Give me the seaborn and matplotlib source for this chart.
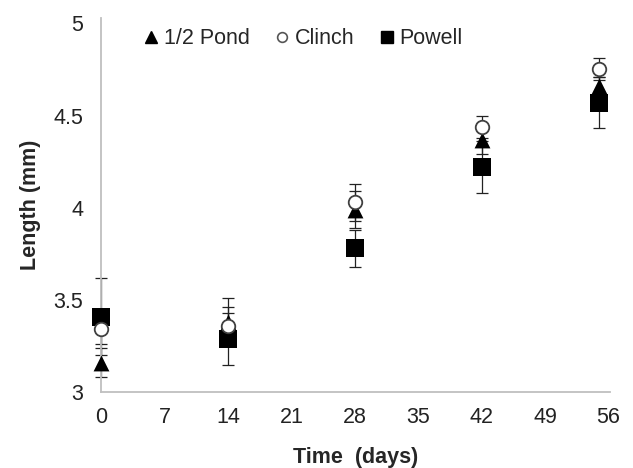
import numpy as np
import pandas as pd
import matplotlib
matplotlib.use('Agg')
import matplotlib.pyplot as plt
import seaborn as sns
from matplotlib.lines import Line2D

# data
days = [0, 14, 28, 42, 55]
pond = [3.16, 3.38, 3.99, 4.37, 4.66]
pond_err = [0.08, 0.13, 0.10, 0.08, 0.05]
clinch = [3.34, 3.36, 4.03, 4.44, 4.75]
clinch_err = [0.08, 0.10, 0.10, 0.06, 0.06]
powell = [3.41, 3.29, 3.78, 4.22, 4.57]
powell_err = [0.21, 0.14, 0.10, 0.14, 0.14]
groups = ['1/2 Pond', 'Clinch', 'Powell']
xticks = [0, 7, 14, 21, 28, 35, 42, 49, 56]
yticks = [3, 3.5, 4, 4.5, 5]
ytick_labels = ['3', '3.5', '4', '4.5', '5']

sns.set_style('white')
plt.rcParams['font.family'] = ['Liberation Sans', 'DejaVu Sans']

df = pd.DataFrame({
    'day': days * 3,
    'length': pond + clinch + powell,
    'err': pond_err + clinch_err + powell_err,
    'group': [g for g in groups for _ in days],
})

fig = plt.figure(figsize=(6.33, 4.68), dpi=100)
ax = fig.add_axes([0.16, 0.162, 0.804, 0.8])

# error bars first
for g in groups:
    d = df[df.group == g]
    eb = ax.errorbar(d.day, d.length, yerr=d.err, fmt='none', ecolor='#222222',
                     elinewidth=0.9, capsize=4, capthick=0.9, zorder=1)
    for art in eb.lines[1] + eb.lines[2]:
        art.set_clip_on(False)

# markers: square, triangle, then circle on top
styles = {
    'Powell': dict(marker='s', s=170, color='black', edgecolor='black', linewidth=0),
    '1/2 Pond': dict(marker='^', s=130, color='black', edgecolor='black', linewidth=0),
    'Clinch': dict(marker='o', s=95, color='white', edgecolor='#404040', linewidth=1.3),
}
for z, g in enumerate(['Powell', '1/2 Pond', 'Clinch']):
    sns.scatterplot(data=df[df.group == g], x='day', y='length', ax=ax,
                    zorder=3 + z, legend=False, clip_on=False, **styles[g])

ax.set_xlim(0, 56.2)
ax.set_ylim(3, 5.03)
ax.set_xticks(xticks)
ax.set_yticks(yticks)
ax.set_yticklabels(ytick_labels)
ax.tick_params(length=0, labelsize=15.5, colors='#222222')
ax.tick_params(axis='y', pad=13)
ax.tick_params(axis='x', pad=11)
for s in ['top', 'right']:
    ax.spines[s].set_visible(False)
for s in ['left', 'bottom']:
    ax.spines[s].set_color('#bfbfbf')
    ax.spines[s].set_linewidth(1.3)

ax.set_xlabel('Time  (days)', fontsize=15.5, fontweight='bold', labelpad=13)
ax.set_ylabel('Length (mm)', fontsize=15.5, fontweight='bold', labelpad=9)

handles = [
    Line2D([], [], ls='none', marker='^', ms=9, mfc='black', mec='black'),
    Line2D([], [], ls='none', marker='o', ms=7, mfc='white', mec='#555555', mew=1.2),
    Line2D([], [], ls='none', marker='s', ms=8, mfc='black', mec='black'),
]
ax.legend(handles, groups, loc='upper center', bbox_to_anchor=(0.393, 1.024),
          ncol=3, frameon=False, fontsize=15.5, handletextpad=0.1,
          columnspacing=1.0, handlelength=1.0)

fig.savefig('out.png', dpi=100)
